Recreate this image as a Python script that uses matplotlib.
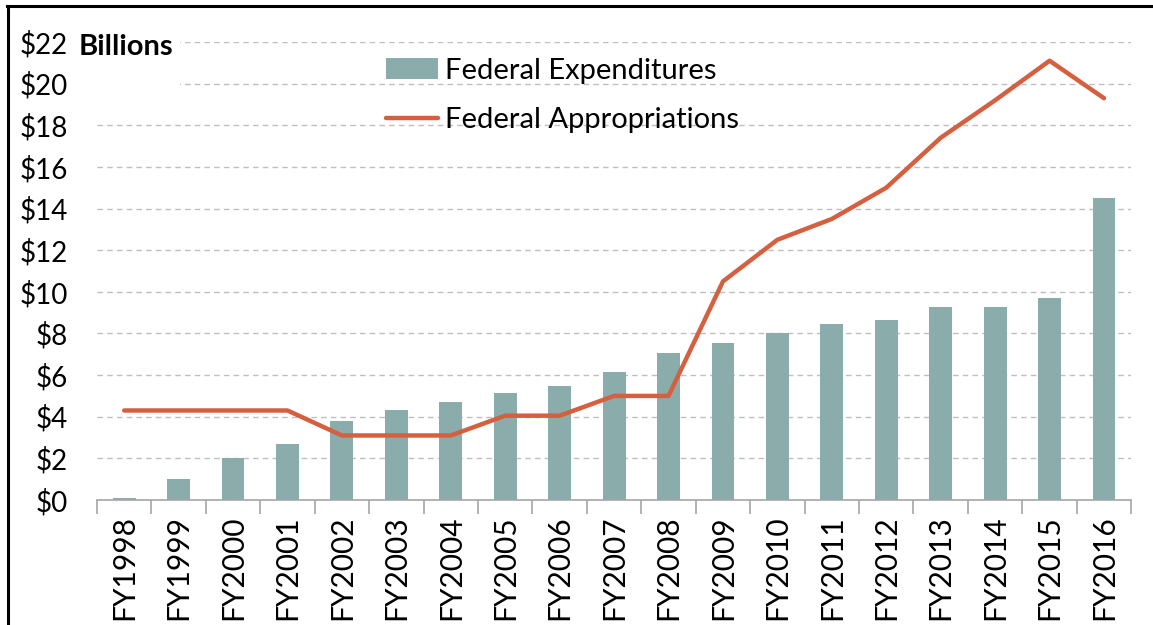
import numpy as np
import matplotlib
matplotlib.use('Agg')
import matplotlib.pyplot as plt
from matplotlib.lines import Line2D
from matplotlib.patches import Rectangle

plt.rcParams['font.family'] = ['Lato', 'DejaVu Sans']

years = ['FY1998', 'FY1999', 'FY2000', 'FY2001', 'FY2002', 'FY2003', 'FY2004',
         'FY2005', 'FY2006', 'FY2007', 'FY2008', 'FY2009', 'FY2010', 'FY2011',
         'FY2012', 'FY2013', 'FY2014', 'FY2015', 'FY2016']
expenditures = [0.1, 1.0, 2.0, 2.7, 3.8, 4.3, 4.7, 5.15, 5.5, 6.15, 7.05,
                7.55, 8.0, 8.45, 8.65, 9.25, 9.25, 9.7, 14.5]
appropriations = [4.3, 4.3, 4.3, 4.3, 3.1, 3.1, 3.1, 4.05, 4.05, 5.0, 5.0,
                  10.5, 12.5, 13.5, 15.0, 17.4, 19.2, 21.1, 19.3]
yticks = list(range(0, 23, 2))

bar_color = '#8AACAB'
line_color = '#D4603F'

fig = plt.figure(figsize=(11.53, 6.25), dpi=100)
ax = fig.add_axes([0.0841, 0.2, 0.897, 0.7328])

x = np.arange(len(years))
bars = ax.bar(x, expenditures, width=0.42, color=bar_color, label='Federal Expenditures', zorder=2)
line, = ax.plot(x, appropriations, color=line_color, lw=3.2, label='Federal Appropriations',
                zorder=3, solid_capstyle='round', solid_joinstyle='round')

ax.set_xlim(-0.5, len(years) - 0.5)
ax.set_ylim(0, 22)
ax.set_yticks(yticks)
ax.set_yticklabels(['$%d' % v for v in yticks], fontsize=20)
ax.set_xticks(x)
ax.set_xticklabels(years, rotation=90, fontsize=21.5)
ax.set_xticks(np.arange(-0.5, len(years), 1), minor=True)
ax.tick_params(axis='x', which='major', length=0, pad=11)
ax.tick_params(axis='x', which='minor', length=10, color='#A6A6A6', width=1.2)
ax.tick_params(axis='y', length=0, pad=21)

ax.grid(axis='y', color='#BFBFBF', linestyle=(0, (4, 3)), lw=1, zorder=0)
for s in ['top', 'right', 'left']:
    ax.spines[s].set_visible(False)
ax.spines['bottom'].set_color('#A6A6A6')
ax.spines['bottom'].set_linewidth(1.2)

# white box behind the units label hides the top gridlines there
fig.add_artist(Rectangle((76 / 1153, 1 - 92 / 625), 104 / 1153, 62 / 625,
                         transform=fig.transFigure, facecolor='white',
                         edgecolor='none', zorder=1))
fig.text(79 / 1153, 1 - 47 / 625, 'Billions', fontsize=21, fontweight='bold',
         va='center', ha='left', zorder=2)

ax.legend([bars, line], ['Federal Expenditures', 'Federal Appropriations'],
          loc='upper left', bbox_to_anchor=(371 / 1153, 1 - 43 / 625),
          bbox_transform=fig.transFigure, frameon=False, fontsize=21,
          handlelength=1.8, labelspacing=0.8, borderpad=0, handletextpad=0.25)

fig.add_artist(Line2D([7 / 1153, 1], [1 - 6 / 625, 1 - 6 / 625], color='black', lw=2.2))
fig.add_artist(Line2D([8 / 1153, 8 / 1153], [0, 1 - 6 / 625], color='black', lw=2.2))

fig.savefig('out.png', dpi=100)
